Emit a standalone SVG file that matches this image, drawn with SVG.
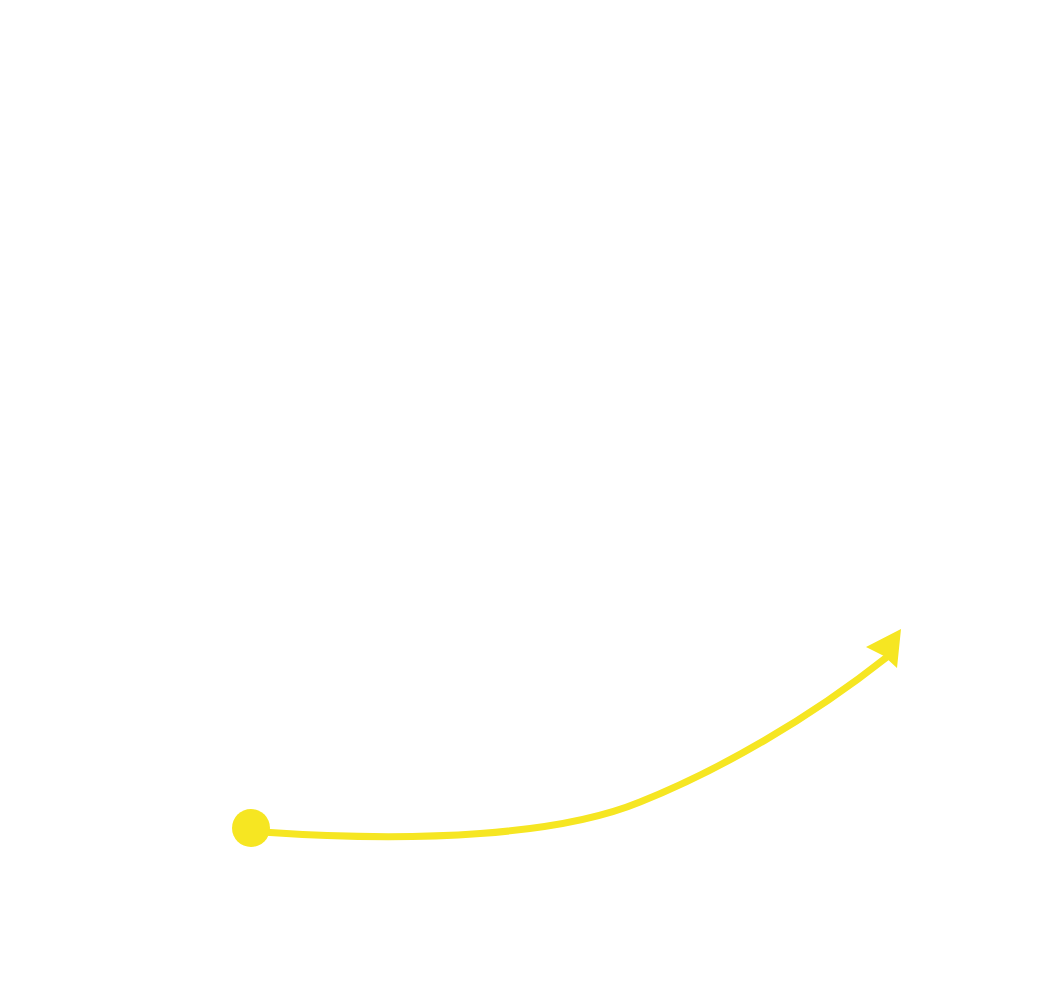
<svg xmlns="http://www.w3.org/2000/svg" width="1042" height="1002" viewBox="0 0 1042 1002">
<style>
.conn{fill:none;stroke:#f6e622;stroke-width:7;stroke-linecap:butt}
.yel{fill:#f6e622}
</style>
<rect width="1042" height="1002" fill="#ffffff"/>
<g id="connectors">
<path class="conn" d="M 262 832 C 420 843 560 835 640 802 C 720 770 810 718 887 657"/>
<polygon class="yel" points="901,629 866,647 884,656 897,668"/>
</g>
<g id="start-node">
<circle class="yel" cx="251" cy="828" r="19"/>
</g>
</svg>
